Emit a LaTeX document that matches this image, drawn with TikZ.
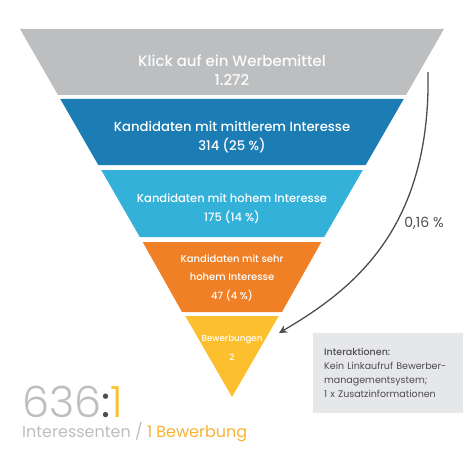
\documentclass[tikz,border=0pt]{standalone}
\usepackage{fontspec}
\setmainfont{Poppins}
\newfontfamily\poplight{Poppins Light}
\newfontfamily\popmed{Poppins Medium}
\usetikzlibrary{arrows.meta}
\definecolor{topgrey}{HTML}{BCBEC0}
\definecolor{darkblue}{HTML}{1C7DB4}
\definecolor{lightblue}{HTML}{33B1D9}
\definecolor{orangeband}{HTML}{F08025}
\definecolor{yellowband}{HTML}{FCBF2E}
\definecolor{boxgrey}{HTML}{E6E7E8}
\definecolor{darktext}{HTML}{4D4D4F}
\definecolor{ratiogrey}{HTML}{BCBEC0}
\definecolor{ratioyellow}{HTML}{F9B234}
\tikzset{
  bandtext/.style={text=white, align=center, inner sep=0pt},
  infobox/.style={fill=boxgrey, text=darktext, align=left, anchor=north west,
    text width=128pt, inner xsep=11pt, minimum height=80pt,
    font=\fontsize{9.5}{14}\selectfont},
}
\begin{document}
\begin{tikzpicture}[x=1pt,y=-1pt]
\useasboundingbox (0,0) rectangle (470,449);

% funnel bands
\fill[topgrey] (20,29) -- (444,29) -- (406,95) -- (58,95) -- cycle;
\fill[darkblue] (60.3,99) -- (403.7,99) -- (365.7,165) -- (98.3,165) -- cycle;
\fill[lightblue] (101.2,170) -- (362.8,170) -- (324.2,237) -- (139.8,237) -- cycle;
\fill[orangeband] (142.7,242) -- (321.3,242) -- (282,312) -- (182,312) -- cycle;
\fill[yellowband] (185.3,316) -- (278.7,316) -- (232,397) -- cycle;

% band labels
\node[bandtext, text=white!95!topgrey, font=\fontsize{15}{19}\selectfont\popmed] (klick) at (232,70) {Klick auf ein Werbemittel\\1.272};
\node[bandtext, font=\fontsize{13.2}{19}\selectfont\popmed] (mittel) at (232,137) {Kandidaten mit mittlerem Interesse\\314 (25~\%)};
\node[bandtext, font=\fontsize{11.5}{19}\selectfont\popmed] (hoch) at (232,208.5) {Kandidaten mit hohem Interesse\\175 (14~\%)};
\node[bandtext, font=\fontsize{10}{18.5}\selectfont\popmed] (sehr) at (232,278) {Kandidaten mit sehr\\hohem Interesse\\47 (4~\%)};
\node[bandtext, font=\fontsize{8.7}{19}\selectfont\popmed] (bewerb) at (232,347.5) {Bewerbungen\\2};

% conversion arrow
\coordinate (arrowstart) at (428,72);
\coordinate (arrowend) at (279,333);
\draw[darktext, line width=1.3pt, -{Stealth[length=8pt,width=8pt]}]
  (arrowstart) .. controls (431,230) and (352,290) .. (arrowend);
\node[text=darktext, font=\fontsize{14}{16}\selectfont] (quote) at (424,223) {0,16~\%};

% info box
\node[infobox] (info) at (313,333) {{\popmed Interaktionen:}\\Kein Linkaufruf Bewerber-\\managementsystem;\\1 x Zusatzinformationen};

% ratio
\node[anchor=base west, inner sep=0pt, text depth=0pt, font=\fontsize{43}{43}\selectfont\poplight] (ratio) at (22,417)
  {\textcolor{ratiogrey}{636}\textcolor{darktext}{\rmfamily:}\textcolor{yellowband}{1}};
\node[anchor=base west, inner sep=0pt, text height=12pt, font=\fontsize{16}{18}\selectfont] (ratiotext) at (22,437)
  {\textcolor{ratiogrey}{Interessenten /} \textcolor{ratioyellow}{1 Bewerbung}};
\end{tikzpicture}
\end{document}
